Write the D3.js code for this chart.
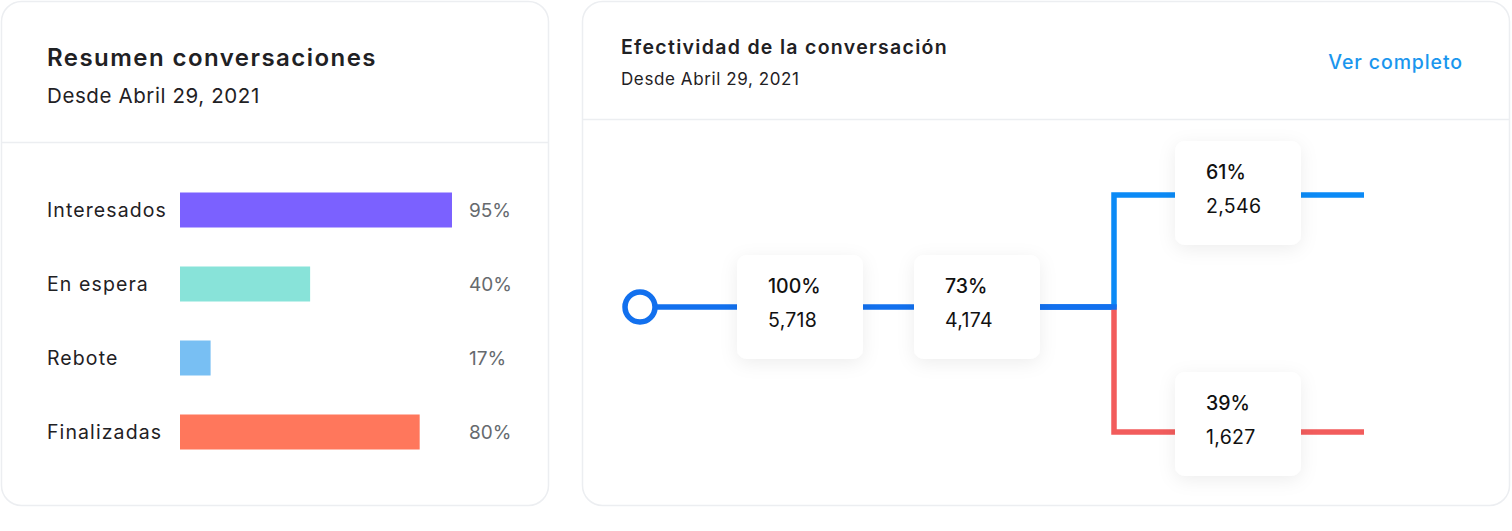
<!DOCTYPE html>
<html>
<head>
<meta charset="utf-8">
<script src="https://cdn.jsdelivr.net/npm/d3@7"></script>
<style>
  html, body { margin: 0; padding: 0; background: #ffffff; }
  svg { display: block; font-family: Inter, "Noto Sans", sans-serif; }
</style>
</head>
<body>
<svg id="chart" width="1512" height="531"></svg>
<script>
// ---------- data ----------
const summaryTitle = "Resumen conversaciones";
const funnelTitle = "Efectividad de la conversación";
const sinceLabel = "Desde Abril 29, 2021";
const linkLabel = "Ver completo";

const categories = ["Interesados", "En espera", "Rebote", "Finalizadas"];
const barShares = [95.1, 45.5, 10.7, 83.8];          // bar lengths as drawn (0–100)
const shareLabels = ["95%", "40%", "17%", "80%"];     // printed labels
const barColors = ["#7b61ff", "#88e3d9", "#78bff3", "#ff775c"];

const funnelStages = ["total", "engaged", "yes", "no"];
const funnelPercents = [100, 73, 61, 39];
const funnelCounts = [5718, 4174, 2546, 1627];

// ---------- layout ----------
const svg = d3.select("#chart");
const defs = svg.append("defs");
const f = defs.append("filter").attr("id", "shadow")
  .attr("x", "-40%").attr("y", "-40%").attr("width", "180%").attr("height", "180%");
f.append("feDropShadow").attr("dx", 0).attr("dy", 4).attr("stdDeviation", 9)
  .attr("flood-color", "#000").attr("flood-opacity", 0.07);

// cards
svg.append("rect").attr("x", 1.5).attr("y", 1.5).attr("width", 547).attr("height", 504)
  .attr("rx", 20).attr("fill", "#fff").attr("stroke", "#eceef1").attr("stroke-width", 1.5);
svg.append("rect").attr("x", 582.5).attr("y", 1.5).attr("width", 927).attr("height", 504)
  .attr("rx", 20).attr("fill", "#fff").attr("stroke", "#eceef1").attr("stroke-width", 1.5);
svg.append("line").attr("x1", 2).attr("x2", 548).attr("y1", 142.5).attr("y2", 142.5)
  .attr("stroke", "#eceef1").attr("stroke-width", 1.5);
svg.append("line").attr("x1", 583).attr("x2", 1509).attr("y1", 119.5).attr("y2", 119.5)
  .attr("stroke", "#eceef1").attr("stroke-width", 1.5);

// ---------- left card ----------
svg.append("text").attr("x", 47).attr("y", 66).text(summaryTitle)
  .attr("font-size", 24).attr("font-weight", 600).attr("letter-spacing", 1.45).attr("fill", "#1f2124");
svg.append("text").attr("x", 47).attr("y", 103).text(sinceLabel)
  .attr("font-size", 20.5).attr("font-weight", 400).attr("letter-spacing", 0.6).attr("fill", "#1f2124");

const y = d3.scaleBand().domain(categories).range([192.5, 192.5 + 74 * 3 + 35]).paddingInner(0.527).paddingOuter(0);
const x = d3.scaleLinear().domain([0, 100]).range([180, 466]);

const rows = svg.append("g").selectAll("g").data(categories).join("g");
rows.append("rect")
  .attr("x", x(0)).attr("y", d => y(d))
  .attr("width", (d, i) => x(barShares[i]) - x(0)).attr("height", y.bandwidth())
  .attr("fill", (d, i) => barColors[i]);
rows.append("text").attr("x", 47).attr("y", d => y(d) + y.bandwidth() / 2 + 7)
  .text(d => d).attr("font-size", 19.5).attr("letter-spacing", 1.1).attr("fill", "#1f2124");
rows.append("text").attr("x", 469).attr("y", d => y(d) + y.bandwidth() / 2 + 7)
  .text((d, i) => shareLabels[i]).attr("font-size", 19).attr("fill", "#666a6e");

// ---------- right card ----------
svg.append("text").attr("x", 621).attr("y", 54).text(funnelTitle)
  .attr("font-size", 19.5).attr("font-weight", 600).attr("letter-spacing", 1.3).attr("fill", "#1f2124");
svg.append("text").attr("x", 621).attr("y", 85).text(sinceLabel)
  .attr("font-size", 17).attr("letter-spacing", 0.6).attr("fill", "#1f2124");
svg.append("text").attr("x", 1463).attr("y", 69).attr("text-anchor", "end").text(linkLabel)
  .attr("font-size", 19.5).attr("font-weight", 500).attr("letter-spacing", 0.9).attr("fill", "#1a96ee");

const colX = d3.scaleOrdinal().domain(["origin", "total", "engaged", "split", "yes", "no", "end"])
  .range([640, 800, 977, 1114, 1238, 1238, 1364]);
const rowY = d3.scaleOrdinal().domain(["main", "yes", "no"]).range([307, 195, 432]);
const stageRow = { total: "main", engaged: "main", yes: "yes", no: "no" };
const boxOffset = { main: 0, yes: -2, no: -8 };

const mainBlue = "#1270ee", branchBlue = "#0b8af6", red = "#f25c5c";
const line = d3.line().curve(d3.curveLinear);
const links = [
  { pts: [[colX("origin"), rowY("main")], [colX("split"), rowY("main")]], color: mainBlue },
  { pts: [[colX("split"), rowY("main")], [colX("split"), rowY("yes")], [colX("end"), rowY("yes")]], color: branchBlue },
  { pts: [[colX("split"), rowY("main")], [colX("split"), rowY("no")], [colX("end"), rowY("no")]], color: red }
];
svg.append("g").selectAll("path").data(links).join("path")
  .attr("d", d => line(d.pts)).attr("fill", "none").attr("stroke", d => d.color)
  .attr("stroke-width", 5.5).attr("stroke-linejoin", "miter");
svg.append("path").attr("d", line([[colX("engaged"), rowY("main")], [colX("split") + 2.75, rowY("main")]]))
  .attr("stroke", mainBlue).attr("stroke-width", 5.5).attr("fill", "none");

svg.append("circle").attr("cx", colX("origin")).attr("cy", rowY("main")).attr("r", 15)
  .attr("fill", "#fff").attr("stroke", mainBlue).attr("stroke-width", 5.5);

const fmt = d3.format(",");
const boxW = 126, boxH = 104;
const boxes = svg.append("g").selectAll("g").data(funnelStages).join("g")
  .attr("transform", d => {
    const r = stageRow[d];
    return `translate(${colX(d) - boxW / 2},${rowY(r) - boxH / 2 + boxOffset[r]})`;
  });
boxes.append("rect").attr("width", boxW).attr("height", boxH).attr("rx", 10)
  .attr("fill", "#fff").attr("filter", "url(#shadow)");
boxes.append("text").attr("x", 31).attr("y", 38).text((d, i) => funnelPercents[i] + "%")
  .attr("font-size", 19.5).attr("font-weight", 500).attr("fill", "#111");
boxes.append("text").attr("x", 31).attr("y", 72).text((d, i) => fmt(funnelCounts[i]))
  .attr("font-size", 19.5).attr("font-weight", 400).attr("letter-spacing", 0.3).attr("fill", "#111");
</script>
</body>
</html>
